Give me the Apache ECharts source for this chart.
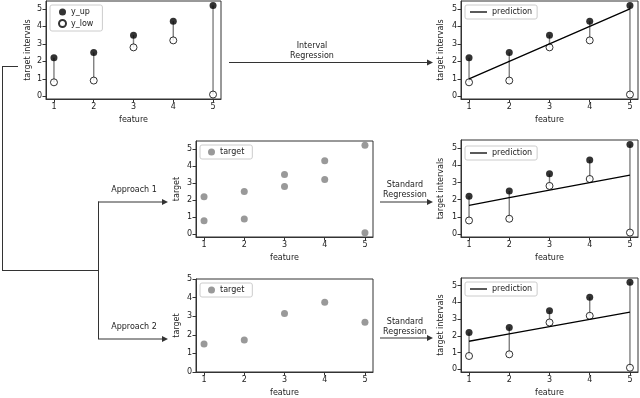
<!DOCTYPE html>
<html><head><meta charset="utf-8">
<script src="https://cdn.jsdelivr.net/npm/echarts@6/dist/echarts.min.js"></script>
<style>html,body{margin:0;padding:0;background:#fff}#c{width:640px;height:398px}</style>
</head><body><div id="c"></div>
<script>
const features = [1, 2, 3, 4, 5];
const yUp = [2.2, 2.5, 3.5, 4.3, 5.2];
const yLow = [0.8, 0.9, 2.8, 3.2, 0.1];
const targetMean = [1.5, 1.72, 3.15, 3.75, 2.68];
const predInterval = [1.0, 2.0, 3.0, 4.0, 5.0];
const predStandard = [1.68, 2.12, 2.55, 2.99, 3.42];
const xTicks = [1, 2, 3, 4, 5];
const yTicks = [0, 1, 2, 3, 4, 5];

const FONT = 'DejaVu Sans';
const AX = '#333';
const grids = [
  {left: 46, top: 1, width: 175, height: 98},
  {left: 461, top: 1, width: 177, height: 98},
  {left: 196, top: 141, width: 177, height: 96},
  {left: 461, top: 140, width: 177, height: 97},
  {left: 196, top: 279, width: 177, height: 96},
  {left: 461, top: 278, width: 177, height: 96}
];
const yNames = ['target intervals', 'target intervals', 'target', 'target intervals', 'target', 'target intervals'];
const yRanges = [[-0.155, 5.455], [-0.155, 5.455], [-0.155, 5.455], [-0.155, 5.455], [0, 5], [-0.155, 5.455]];
const yNameGaps = [14, 16, 15, 16, 15, 16];

const txt = {fontSize: 8, color: '#222', fontFamily: FONT};

const xAxes = grids.map((g, i) => ({
  type: 'value', gridIndex: i, min: 0.8, max: 5.2,
  splitLine: {show: false},
  axisLine: {show: true, onZero: false, lineStyle: {color: AX, width: 1}},
  axisTick: {show: true, length: 3.5, customValues: xTicks, lineStyle: {color: AX}},
  axisLabel: Object.assign({customValues: xTicks, margin: 4}, txt),
  name: 'feature', nameLocation: 'middle', nameGap: 17,
  nameTextStyle: txt
}));
const yAxes = grids.map((g, i) => ({
  type: 'value', gridIndex: i, min: yRanges[i][0], max: yRanges[i][1],
  splitLine: {show: false},
  axisLine: {show: true, onZero: false, lineStyle: {color: AX, width: 1}},
  axisTick: {show: true, length: 3.5, customValues: yTicks, lineStyle: {color: AX}},
  axisLabel: Object.assign({customValues: yTicks, margin: 4}, txt),
  name: yNames[i], nameLocation: 'middle', nameGap: yNameGaps[i],
  nameTextStyle: txt
}));

function stems(gi) {
  return {
    type: 'custom', xAxisIndex: gi, yAxisIndex: gi, z: 2, silent: true,
    data: features.map((x, i) => [x, yLow[i], yUp[i]]),
    encode: {x: 0, y: [1, 2]},
    renderItem: function (params, api) {
      const a = api.coord([api.value(0), api.value(1)]);
      const b = api.coord([api.value(0), api.value(2)]);
      return {type: 'line', shape: {x1: a[0], y1: a[1], x2: b[0], y2: b[1]},
        style: {stroke: '#808080', lineWidth: 1.4}};
    }
  };
}
function upPts(gi) {
  return {type: 'scatter', name: 'y_up', xAxisIndex: gi, yAxisIndex: gi, z: 4,
    symbolSize: 7, itemStyle: {color: '#000'},
    data: features.map((x, i) => [x, yUp[i]])};
}
function lowPts(gi) {
  return {type: 'scatter', name: 'y_low', xAxisIndex: gi, yAxisIndex: gi, z: 4,
    symbolSize: 7, itemStyle: {color: '#fff', borderColor: '#000', borderWidth: 1},
    data: features.map((x, i) => [x, yLow[i]])};
}
function predLine(gi, vals) {
  return {type: 'line', name: 'prediction', xAxisIndex: gi, yAxisIndex: gi, z: 5,
    symbol: 'none', lineStyle: {color: '#000', width: 1.3}, itemStyle: {color: '#000'},
    data: features.map((x, i) => [x, vals[i]])};
}

const series = [
  stems(0), upPts(0), lowPts(0),
  stems(1), upPts(1), lowPts(1), predLine(1, predInterval),
  {type: 'scatter', name: 'target', xAxisIndex: 2, yAxisIndex: 2, symbolSize: 7,
    itemStyle: {color: '#808080'},
    data: features.map((x, i) => [x, yUp[i]]).concat(features.map((x, i) => [x, yLow[i]]))},
  stems(3), upPts(3), lowPts(3), predLine(3, predStandard),
  {type: 'scatter', name: 'target', xAxisIndex: 4, yAxisIndex: 4, symbolSize: 7,
    itemStyle: {color: '#808080'},
    data: features.map((x, i) => [x, targetMean[i]])},
  stems(5), upPts(5), lowPts(5), predLine(5, predStandard)
];

const legBase = {
  orient: 'vertical', backgroundColor: 'rgba(255,255,255,0.85)',
  borderColor: '#ccc', borderWidth: 1, borderRadius: 2,
  textStyle: txt, selectedMode: false
};
const predLeg = [{name: 'prediction', icon: 'rect'}];
const legends = [
  Object.assign({}, legBase, {left: 50, top: 5, data: ['y_up', 'y_low'], itemWidth: 7, itemHeight: 7, itemGap: 3, padding: [3, 9, 3, 8]}),
  Object.assign({}, legBase, {left: 465, top: 5, data: predLeg, itemWidth: 17, itemHeight: 1.3, padding: [3, 5, 3, 5]}),
  Object.assign({}, legBase, {left: 200, top: 145, data: ['target'], itemWidth: 7, itemHeight: 7, padding: [3, 8, 3, 8]}),
  Object.assign({}, legBase, {left: 465, top: 146, data: predLeg, itemWidth: 17, itemHeight: 1.3, padding: [3, 5, 3, 5]}),
  Object.assign({}, legBase, {left: 200, top: 283, data: ['target'], itemWidth: 7, itemHeight: 7, padding: [3, 8, 3, 8]}),
  Object.assign({}, legBase, {left: 465, top: 282, data: predLeg, itemWidth: 17, itemHeight: 1.3, padding: [3, 5, 3, 5]})
];

const LC = '#333';
function seg(x1, y1, x2, y2) {
  return {type: 'line', silent: true, shape: {x1, y1, x2, y2}, style: {stroke: LC, lineWidth: 1}};
}
function head(x, y) {
  return {type: 'polygon', silent: true, shape: {points: [[x, y], [x - 6, y - 3], [x - 6, y + 3]]}, style: {fill: LC}};
}
function label(x, y, t) {
  return {type: 'text', silent: true, x, y, style: {text: t, fill: '#222', font: '8px "DejaVu Sans"', align: 'center', verticalAlign: 'middle'}};
}
const graphics = [
  seg(229, 62.5, 428, 62.5), head(433, 62.5),
  label(312, 46, 'Interval'), label(312, 55.5, 'Regression'),
  seg(3, 66.5, 18, 66.5), seg(2.5, 66, 2.5, 270.5), seg(2, 270.5, 98.5, 270.5),
  seg(98.5, 201.5, 98.5, 339), seg(98, 202, 163, 202), head(168, 202),
  seg(98, 339, 163, 339), head(168, 339),
  label(134, 190, 'Approach 1'), label(134, 327, 'Approach 2'),
  seg(380, 202, 428, 202), head(433, 202),
  label(405, 185, 'Standard'), label(405, 195, 'Regression'),
  seg(380, 338, 428, 338), head(433, 338),
  label(405, 321.5, 'Standard'), label(405, 331.5, 'Regression')
];

const chart = echarts.init(document.getElementById('c'), null, {renderer: 'canvas'});
chart.setOption({
  animation: false,
  textStyle: {fontFamily: FONT},
  grid: grids.map(g => Object.assign({show: true, borderColor: AX, borderWidth: 1, containLabel: false}, g)),
  xAxis: xAxes, yAxis: yAxes,
  legend: legends,
  series: series,
  graphic: graphics
});
</script></body></html>
